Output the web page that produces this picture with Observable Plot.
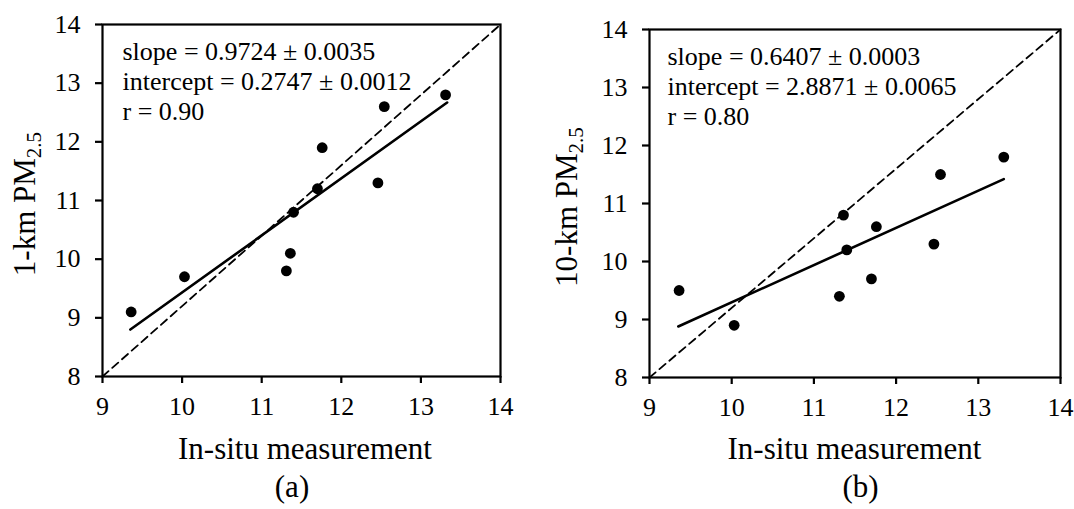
<!DOCTYPE html>
<html><head><meta charset="utf-8">
<script src="https://cdn.jsdelivr.net/npm/d3@7"></script>
<script src="https://cdn.jsdelivr.net/npm/@observablehq/plot@0.6"></script>
<style>
body{margin:0;background:#fff;}
#wrap{display:flex;width:1074px;height:509px;background:#fff;}
</style></head><body><div id="wrap"></div>
<script>
// ---- data ----
const insituX = [9.36, 10.03, 11.31, 11.36, 11.40, 11.70, 11.76, 12.46, 12.54, 13.31];
const pm1km  = [9.1, 9.7, 9.8, 10.1, 10.8, 11.2, 11.9, 11.3, 12.6, 12.8];
const pm10km = [9.5, 8.9, 9.4, 10.8, 10.2, 9.7, 10.6, 10.3, 11.5, 11.8];
const fitAX = [9.35, 13.33], fitAY = [8.80, 12.67];
const fitBX = [9.35, 13.31], fitBY = [8.88, 11.42];
const diagX = [9, 14], diagY = [8, 14];
const xTicks = [9, 10, 11, 12, 13, 14];
const yTicks = [8, 9, 10, 11, 12, 13, 14];
const statsA = ["slope = 0.9724 ± 0.0035", "intercept = 0.2747 ± 0.0012", "r = 0.90"];
const statsB = ["slope = 0.6407 ± 0.0003", "intercept = 2.8871 ± 0.0065", "r = 0.80"];
const yTitleA = ["1-km PM", "2.5"];
const yTitleB = ["10-km PM", "2.5"];
const xTitle = "In-situ measurement";
const panelLabels = ["(a)", "(b)"];

const FONT = '"Liberation Serif","Times New Roman",Times,serif';
const fmt = d => String(d);

function panel({ys, fitX, fitY, stats, yTitle, label, margins, yTitleOffset, xTitleDx, labelDx, statsDx}) {
  const pts = insituX.map((x, i) => ({x, y: ys[i]}));
  const fit = fitX.map((x, i) => ({x, y: fitY[i]}));
  const diag = diagX.map((x, i) => ({x, y: diagY[i]}));
  const plot = Plot.plot({
    width: 537, height: 509, ...margins,
    style: {fontFamily: FONT, fontSize: "26px", color: "#000", background: "#fff", overflow: "visible"},
    x: {domain: [9, 14]},
    y: {domain: [8, 14]},
    marks: [
      Plot.line(diag, {x: "x", y: "y", stroke: "#000", strokeWidth: 1.8, strokeDasharray: "8,5"}),
      Plot.line(fit, {x: "x", y: "y", stroke: "#000", strokeWidth: 2.6}),
      Plot.dot(pts, {x: "x", y: "y", r: 5.4, fill: "#000", stroke: "none"}),
      Plot.text([stats.join("\n")], {text: d => d, frameAnchor: "top-left", textAnchor: "start", lineAnchor: "top",
        dx: statsDx, dy: 14.5, lineHeight: 30 / 26, fontSize: 26, fill: "#000"}),
      Plot.axisX({ticks: xTicks, tickFormat: fmt, tickSize: 7, tickPadding: 13, strokeWidth: 2.2, fontSize: 26, label: null, fill: "#000"}),
      Plot.axisY({ticks: yTicks, tickFormat: fmt, tickSize: 7, tickPadding: 15, strokeWidth: 2.2, fontSize: 26, label: null, fill: "#000"}),
      Plot.frame({stroke: "#000", strokeWidth: 2.2})
    ]
  });
  const xs = plot.scale("x"), ysc = plot.scale("y");
  const cx = (xs.range[0] + xs.range[1]) / 2;
  const cy = (ysc.range[0] + ysc.range[1]) / 2;
  const svg = d3.select(plot);
  svg.append("text").attr("x", cx + xTitleDx).attr("y", 459).attr("text-anchor", "middle")
    .attr("font-family", FONT).attr("font-size", 31).attr("fill", "#000").text(xTitle);
  svg.append("text").attr("x", cx + labelDx).attr("y", 497).attr("text-anchor", "middle")
    .attr("font-family", FONT).attr("font-size", 31).attr("fill", "#000").text(label);
  const t = svg.append("text")
    .attr("transform", `translate(${xs.range[0] - yTitleOffset},${cy + 4}) rotate(-90)`)
    .attr("text-anchor", "middle").attr("font-family", FONT).attr("font-size", 31).attr("fill", "#000");
  t.append("tspan").text(yTitle[0]);
  t.append("tspan").attr("font-size", 21).attr("dy", 6).text(yTitle[1]);
  return plot;
}

const wrap = document.getElementById("wrap");
wrap.append(panel({ys: pm1km, fitX: fitAX, fitY: fitAY, stats: statsA, yTitle: yTitleA, label: panelLabels[0],
  margins: {marginLeft: 102, marginRight: 37, marginTop: 24, marginBottom: 133},
  yTitleOffset: 67, xTitleDx: 4, labelDx: -9, statsDx: 20}));
wrap.append(panel({ys: pm10km, fitX: fitBX, fitY: fitBY, stats: statsB, yTitle: yTitleB, label: panelLabels[1],
  margins: {marginLeft: 112, marginRight: 14, marginTop: 29, marginBottom: 132},
  yTitleOffset: 72, xTitleDx: 0, labelDx: 6, statsDx: 18}));
</script></body></html>
